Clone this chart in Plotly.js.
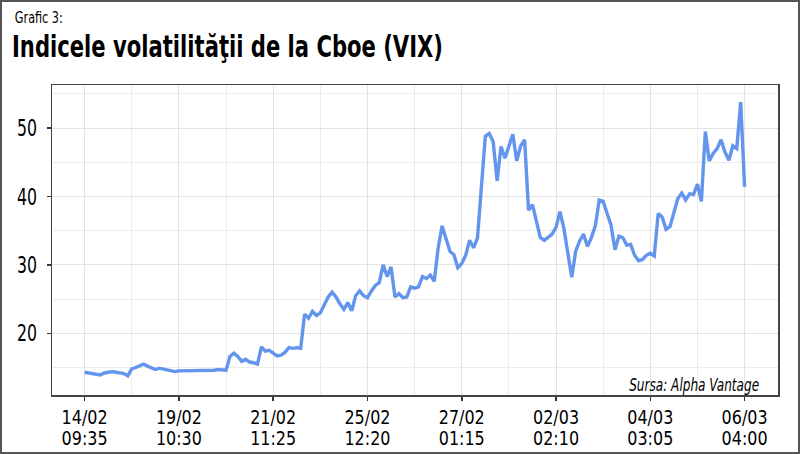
<!DOCTYPE html>
<html>
<head>
<meta charset="utf-8">
<script src="https://cdn.plot.ly/plotly-3.0.1.min.js"></script>
<style>
html,body{margin:0;padding:0;background:#fff;}
#wrap{position:relative;width:800px;height:454px;}
#chart{position:absolute;left:0;top:0;width:800px;height:454px;}
#frame{position:absolute;left:0;top:0;width:800px;height:454px;box-sizing:border-box;border:2px solid #555;pointer-events:none;}
</style>
</head>
<body>
<div id="wrap"><div id="chart"></div><div id="frame"></div></div>
<script>
const pointsPerTick = 24;
const tickLabels = ["14/02<br>09:35","19/02<br>10:30","21/02<br>11:25","25/02<br>12:20","27/02<br>01:15","02/03<br>02:10","04/03<br>03:05","06/03<br>04:00"];
const vix = [
14.3,14.2,14.1,13.9,13.9,14.2,14.3,14.4,14.3,14.2,
14.1,13.8,14.8,15.0,15.2,15.5,15.2,14.9,14.7,14.9,
14.8,14.7,14.6,14.4,14.5,14.5,14.6,14.6,14.6,14.5,
14.5,14.5,14.5,14.6,14.7,14.6,14.6,16.6,17.1,16.6,
15.9,16.2,15.8,15.7,15.5,18.0,17.4,17.5,17.1,16.7,
16.8,17.2,17.9,17.8,17.9,17.8,22.8,22.2,23.2,22.6,
23.0,24.2,25.3,26.0,25.3,24.3,23.5,24.5,23.3,25.5,
26.2,25.5,25.2,26.2,27.0,27.4,30.0,28.3,29.7,25.3,
25.8,25.2,25.3,26.8,26.6,26.8,28.3,28.0,28.5,27.6,
32.5,35.7,34.0,32.0,31.5,29.6,30.2,31.4,33.6,32.5,
33.9,42.0,48.8,49.2,48.0,42.3,47.3,45.6,47.5,49.1,
45.2,47.4,48.3,38.0,38.8,36.6,34.0,33.6,34.0,34.5,
35.5,37.8,35.3,32.0,28.2,32.0,33.5,34.5,32.7,34.0,
35.7,39.5,39.3,37.5,35.8,32.2,34.2,34.0,32.9,33.0,
31.4,30.6,30.8,31.4,31.7,31.3,37.5,37.0,35.2,35.6,
37.5,39.7,40.5,39.5,40.4,40.3,41.8,39.3,49.5,45.2,
46.3,47.0,48.3,46.5,45.3,47.4,47.0,53.8,41.4
];
const idx = vix.map((_, i) => i);
const tickVals = tickLabels.map((_, i) => i * pointsPerTick);

const FONT = "'DejaVu Sans Condensed', 'Liberation Sans Narrow', sans-serif";

const trace = {
  x: idx, y: vix, type: 'scatter', mode: 'lines',
  line: {color: '#6495ED', width: 3.4},
  hoverinfo: 'skip'
};

const layout = {
  width: 800, height: 454,
  margin: {l: 52, r: 22, t: 85, b: 59, pad: 0},
  paper_bgcolor: '#fff', plot_bgcolor: '#fff',
  showlegend: false,
  font: {family: FONT, color: '#000'},
  title: {
    text: '<b>Indicele volatilităţii de la Cboe (VIX)</b>',
    font: {family: FONT, size: 31, color: '#000'},
    x: 12/800, xanchor: 'left', xref: 'container',
    y: 1 - 46/454, yanchor: 'middle', yref: 'container'
  },
  xaxis: {
    range: [-8.3, 176.5],
    tickmode: 'array', tickvals: tickVals, ticktext: tickLabels,
    ticks: 'outside', ticklen: 4, tickwidth: 1.5, tickcolor: '#333',
    tickfont: {family: FONT, size: 20, color: '#000'},
    ticklabelstandoff: -1,
    showgrid: true, gridcolor: '#e3e3e3', gridwidth: 1,
    minor: {tickmode: 'linear', tick0: 0, dtick: pointsPerTick/2, showgrid: true, gridcolor: '#ececec', gridwidth: 1, ticks: ''},
    showline: true, linecolor: '#444', linewidth: 1.5, mirror: true,
    zeroline: false, fixedrange: true
  },
  yaxis: {
    range: [10.98, 56.3],
    tickmode: 'linear', tick0: 0, dtick: 10,
    ticks: 'outside', ticklen: 4, tickwidth: 1.5, tickcolor: '#333',
    tickfont: {family: FONT, size: 23, color: '#000'},
    ticklabelstandoff: 5,
    showgrid: true, gridcolor: '#e3e3e3', gridwidth: 1,
    minor: {tickmode: 'linear', tick0: 5, dtick: 10, showgrid: true, gridcolor: '#ececec', gridwidth: 1, ticks: ''},
    showline: true, linecolor: '#444', linewidth: 1.5, mirror: true,
    zeroline: false, fixedrange: true
  },
  annotations: [
    {text: 'Grafic 3:', xref: 'paper', yref: 'paper', x: (39-52)/726, y: 1 + (85-18.5)/310,
     xanchor: 'center', yanchor: 'middle', showarrow: false,
     font: {family: FONT, size: 15, color: '#000'}},
    {text: '<i>Sursa: Alpha Vantage</i>', xref: 'paper', yref: 'paper', x: (694-52)/726, y: (395-385)/310,
     xanchor: 'center', yanchor: 'middle', showarrow: false,
     font: {family: FONT, size: 17, color: '#000'}}
  ]
};

function squeeze(el, w) {
  el.setAttribute('textLength', w);
  el.setAttribute('lengthAdjust', 'spacingAndGlyphs');
}

Plotly.newPlot('chart', [trace], layout, {displayModeBar: false, staticPlot: true}).then(gd => {
  gd.querySelectorAll('.gtitle').forEach(t => squeeze(t, 431));
  gd.querySelectorAll('.ytick text').forEach(t => squeeze(t, 20));
  gd.querySelectorAll('.xtick text').forEach(t => {
    const lines = t.querySelectorAll('tspan.line');
    lines.forEach((l, k) => {
      squeeze(l, 46);
      if (k > 0) l.setAttribute('dy', '1.08em');
    });
  });
  const ann = gd.querySelectorAll('.annotation-text');
  if (ann[0]) squeeze(ann[0], 48);
  if (ann[1]) squeeze(ann[1], 130);
});
</script>
</body>
</html>
